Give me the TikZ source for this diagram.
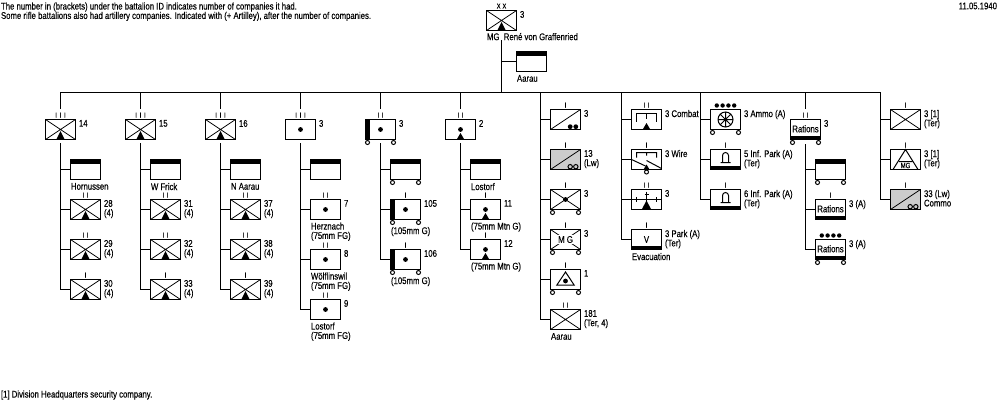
\documentclass[tikz,border=0pt]{standalone}
\usepackage{fontspec}
\setmainfont[FakeStretch=0.8,FakeBold=0.25]{Liberation Sans}
\usepackage{tikz}
\usetikzlibrary{calc,shapes.geometric}
\definecolor{lwgrey}{RGB}{204,204,204}

% echelon marks above a unit box
\newcommand{\tone}{I}
\newcommand{\ttwo}{I\kern2.8pt I}
\newcommand{\tthree}{I\kern2.8pt I\kern2.8pt I}

% text beside and under a unit box
\newcommand{\sidetxt}[2]{\node[sidetxt] (#1n) at ([xshift=3pt]#1.north east) {#2};}
\newcommand{\subtxt}[3][2.5pt]{\node[sidetxt] (#2u) at ([yshift=-#1]#2.south west) {#3};}

% symbols inside a box, relative to its centre
\newcommand{\cross}[1]{\draw[line width=.8pt] (#1.south west) -- (#1.north east) (#1.north west) -- (#1.south east);}
\newcommand{\diag}[1]{\draw[line width=.8pt] (#1.south west) -- (#1.north east);}
\newcommand{\mtn}[1]{\fill[shift={(#1.center)}] (-4,9.5) -- (0,1.5) -- (4,9.5) -- cycle;}
\newcommand{\lowmtn}[1]{\fill[shift={(#1.center)}] (-3.5,9.5) -- (0,3.5) -- (3.5,9.5) -- cycle;}
\newcommand{\gun}[1]{\fill (#1.center) circle (2.4);}
\newcommand{\hqband}[1]{\fill[shift={(#1.center)}] (-15,-10) rectangle (15,-6);}
\newcommand{\lowband}[1]{\fill[shift={(#1.center)}] (-15,6.5) rectangle (15,10);}
\newcommand{\leftband}[1]{\fill[shift={(#1.center)}] (-15,-10) rectangle (-11,10);}
\newcommand{\wheels}[1]{\draw[wheel,shift={(#1.center)}] (-13,13) circle (2) (13,13) circle (2);}
\newcommand{\fourdots}[1]{\fill[shift={(#1.center)}] (-8.7,-14) circle (2.2) (-2.9,-14) circle (2.2)
  (2.9,-14) circle (2.2) (8.7,-14) circle (2.2);}
\newcommand{\arch}[1]{\draw[shift={(#1.center)}] (-3,3) -- (-3,-4) arc (180:360:3) -- (3,3) (-5,3) -- (5,3);}

\begin{document}
\begin{tikzpicture}[
    x=1pt, y=-1pt, line width=1pt,
    txt/.style     = {inner sep=0, font=\fontsize{9.7}{9.4}\selectfont},
    sidetxt/.style = {txt, anchor=north west, align=left},
    unit/.style    = {rectangle, draw, fill=white, minimum width=30pt, minimum height=20pt,
                      inner sep=0, outer sep=0, font=\fontsize{9.7}{9.4}\selectfont},
    greyunit/.style= {unit, fill=lwgrey},
    ech/.style     = {inner sep=1.5pt, font=\fontsize{7}{7}\selectfont},
    wheel/.style   = {draw, fill=white},
    conn/.style    = {draw, line cap=rect}
  ]
    \useasboundingbox (-0.5,-0.5) rectangle (999.5,399.5);

    % notes
    \node[sidetxt] (note) at (0,1.5) {The number in (brackets) under the battalion ID indicates number of companies it had.\\
      Some rifle battalions also had artillery companies. Indicated with (+ Artilley), after the number of companies.};
    \node[sidetxt, anchor=north east] (date) at (997,1.5) {11.05.1940};
    \node[sidetxt] (foot) at (0,389.5) {[1] Division Headquarters security company.};

    % division
    \node[unit, label={[ech,name=dive]above:X\kern2pt X}] (div) at (501,20) {};
    \cross{div} \mtn{div} \sidetxt{div}{3}
    \subtxt[2pt]{div}{MG\ \ René von Graffenried}
    \node[unit] (dhq) at (531,61) {};
    \hqband{dhq} \subtxt[3pt]{dhq}{Aarau}

    % trunk
    \coordinate (trdiv) at (501,92);
    \coordinate (trA) at (60,92);   \coordinate (trB) at (140,92);  \coordinate (trC) at (220,92);
    \coordinate (trD) at (300,92);  \coordinate (trE) at (380,92);  \coordinate (trF) at (460,92);
    \coordinate (trG) at (540,92);  \coordinate (trH) at (621,92);  \coordinate (trI) at (700,92);
    \coordinate (trJ) at (805,92);  \coordinate (trK) at (880,92);
    \draw[conn] (trA) -- (trK);
    \draw[conn] (divu.south -| div) -- (trdiv);
    \draw[conn] (divu.south -| div) |- (dhq.west);

    % rifle regiments
    \node[unit, label={[ech,name=ra1e]above:\tthree}] (ra) at (60,129) {};
    \cross{ra} \mtn{ra} \sidetxt{ra}{14}
    \node[unit] (ah) at (85,169) {};
    \hqband{ah} \subtxt[3pt]{ah}{Hornussen}
    \node[unit, label={[ech,name=a1e]above:\ttwo}] (a1) at (85,209) {};
    \cross{a1} \mtn{a1} \sidetxt{a1}{28\\(4)}
    \node[unit, label={[ech,name=a2e]above:\ttwo}] (a2) at (85,249) {};
    \cross{a2} \mtn{a2} \sidetxt{a2}{29\\(4)}
    \node[unit, label={[ech,name=a3e]above:\tone}] (a3) at (85,289) {};
    \cross{a3} \mtn{a3} \sidetxt{a3}{30\\(4)}
    \draw[conn] (trA) -- ([yshift=2pt]ra1e.north);
    \draw[conn] ([yshift=-4pt]ra.south) |- (ah.west);
    \draw[conn] ([yshift=-4pt]ra.south) |- (a1.west);
    \draw[conn] ([yshift=-4pt]ra.south) |- (a2.west);
    \draw[conn] ([yshift=-4pt]ra.south) |- (a3.west);

    \node[unit, label={[ech,name=rb1e]above:\tthree}] (rb) at (140,129) {};
    \cross{rb} \mtn{rb} \sidetxt{rb}{15}
    \node[unit] (bh) at (165,169) {};
    \hqband{bh} \subtxt[3pt]{bh}{W Frick}
    \node[unit, label={[ech,name=b1e]above:\ttwo}] (b1) at (165,209) {};
    \cross{b1} \mtn{b1} \sidetxt{b1}{31\\(4)}
    \node[unit, label={[ech,name=b2e]above:\ttwo}] (b2) at (165,249) {};
    \cross{b2} \mtn{b2} \sidetxt{b2}{32\\(4)}
    \node[unit, label={[ech,name=b3e]above:\tone}] (b3) at (165,289) {};
    \cross{b3} \mtn{b3} \sidetxt{b3}{33\\(4)}
    \draw[conn] (trB) -- ([yshift=2pt]rb1e.north);
    \draw[conn] ([yshift=-4pt]rb.south) |- (bh.west);
    \draw[conn] ([yshift=-4pt]rb.south) |- (b1.west);
    \draw[conn] ([yshift=-4pt]rb.south) |- (b2.west);
    \draw[conn] ([yshift=-4pt]rb.south) |- (b3.west);

    \node[unit, label={[ech,name=rc1e]above:\tthree}] (rc) at (220,129) {};
    \cross{rc} \mtn{rc} \sidetxt{rc}{16}
    \node[unit] (ch) at (245,169) {};
    \hqband{ch} \subtxt[3pt]{ch}{N Aarau}
    \node[unit, label={[ech,name=c1e]above:\ttwo}] (c1) at (245,209) {};
    \cross{c1} \mtn{c1} \sidetxt{c1}{37\\(4)}
    \node[unit, label={[ech,name=c2e]above:\ttwo}] (c2) at (245,249) {};
    \cross{c2} \mtn{c2} \sidetxt{c2}{38\\(4)}
    \node[unit, label={[ech,name=c3e]above:\tone}] (c3) at (245,289) {};
    \cross{c3} \mtn{c3} \sidetxt{c3}{39\\(4)}
    \draw[conn] (trC) -- ([yshift=2pt]rc1e.north);
    \draw[conn] ([yshift=-4pt]rc.south) |- (ch.west);
    \draw[conn] ([yshift=-4pt]rc.south) |- (c1.west);
    \draw[conn] ([yshift=-4pt]rc.south) |- (c2.west);
    \draw[conn] ([yshift=-4pt]rc.south) |- (c3.west);

    % field artillery
    \node[unit, label={[ech,name=rde]above:\tthree}] (rd) at (300,129) {};
    \gun{rd} \sidetxt{rd}{3}
    \node[unit] (dh) at (325,169) {};
    \hqband{dh}
    \node[unit, label={[ech,name=d1e]above:\ttwo}] (d1) at (325,209) {};
    \gun{d1} \sidetxt{d1}{7} \subtxt{d1}{Herznach\\(75mm FG)}
    \node[unit, label={[ech,name=d2e]above:\ttwo}] (d2) at (325,259) {};
    \gun{d2} \sidetxt{d2}{8} \subtxt{d2}{Wölflinswil\\(75mm FG)}
    \node[unit, label={[ech,name=d3e]above:\ttwo}] (d3) at (325,309) {};
    \gun{d3} \sidetxt{d3}{9} \subtxt{d3}{Lostorf\\(75mm FG)}
    \draw[conn] (trD) -- ([yshift=2pt]rde.north);
    \draw[conn] ([yshift=-4pt]rd.south) |- (dh.west);
    \draw[conn] ([yshift=-4pt]rd.south) |- (d1.west);
    \draw[conn] ([yshift=-4pt]rd.south) |- (d2.west);
    \draw[conn] ([yshift=-4pt]rd.south) |- (d3.west);

    % heavy artillery
    \node[unit, label={[ech,name=ree]above:\ttwo}] (re) at (380,129) {};
    \leftband{re} \gun{re} \wheels{re} \sidetxt{re}{3}
    \node[unit] (eh) at (405,169) {};
    \hqband{eh} \wheels{eh}
    \node[unit, label={[ech,name=e1e]above:\tone}] (e1) at (405,209) {};
    \leftband{e1} \gun{e1} \wheels{e1} \sidetxt{e1}{105} \subtxt[7pt]{e1}{(105mm G)}
    \node[unit, label={[ech,name=e2e]above:\tone}] (e2) at (405,259) {};
    \leftband{e2} \gun{e2} \wheels{e2} \sidetxt{e2}{106} \subtxt[7pt]{e2}{(105mm G)}
    \draw[conn] (trE) -- ([yshift=2pt]ree.north);
    \draw[conn] ([yshift=-4pt]re.south) |- (eh.west);
    \draw[conn] ([yshift=-4pt]re.south) |- (e1.west);
    \draw[conn] ([yshift=-4pt]re.south) |- (e2.west);

    % mountain artillery
    \node[unit, label={[ech,name=rfe]above:\ttwo}] (rf) at (460,129) {};
    \gun{rf} \lowmtn{rf} \sidetxt{rf}{2}
    \node[unit] (fh) at (485,169) {};
    \hqband{fh} \subtxt[3pt]{fh}{Lostorf}
    \node[unit, label={[ech,name=f1e]above:\tone}] (f1) at (485,209) {};
    \gun{f1} \lowmtn{f1} \sidetxt{f1}{11} \subtxt{f1}{(75mm Mtn G)}
    \node[unit, label={[ech,name=f2e]above:\tone}] (f2) at (485,249) {};
    \gun{f2} \lowmtn{f2} \sidetxt{f2}{12} \subtxt{f2}{(75mm Mtn G)}
    \draw[conn] (trF) -- ([yshift=2pt]rfe.north);
    \draw[conn] ([yshift=-4pt]rf.south) |- (fh.west);
    \draw[conn] ([yshift=-4pt]rf.south) |- (f1.west);
    \draw[conn] ([yshift=-4pt]rf.south) |- (f2.west);

    % divisional troops
    \node[unit, label={[ech,name=g1e]above:\tone}] (g1) at (565,119) {};
    \diag{g1} \fill[shift={(g1.center)}] (4.7,7.2) circle (2.4) (10.3,7.2) circle (2.4);
    \sidetxt{g1}{3}
    \node[greyunit, label={[ech,name=g2e]above:\tone}] (g2) at (565,159) {};
    \diag{g2} \draw[shift={(g2.center)}] (4.7,7.2) circle (2.2) (10.3,7.2) circle (2.2);
    \sidetxt{g2}{13\\(Lw)}
    \node[unit, label={[ech,name=g3e]above:\tone}] (g3) at (565,199) {};
    \cross{g3} \gun{g3} \wheels{g3} \sidetxt{g3}{3}
    \node[unit, label={[ech,name=g4e]above:\tone}] (g4) at (565,239) {};
    \cross{g4} \wheels{g4} \sidetxt{g4}{3}
    \node[txt, fill=white, inner sep=1pt] (g4t) at (g4) {M G};
    \node[unit, label={[ech,name=g5e]above:\tone}] (g5) at (565,279) {};
    \draw[shift={(g5.center)}] (0,-7.5) -- (8.7,5.6) -- (-8.7,5.6) -- cycle;
    \fill[shift={(g5.center)}] (0,1.5) circle (2.4);
    \wheels{g5} \sidetxt{g5}{1}
    \node[unit, label={[ech,name=g6e]above:\ttwo}] (g6) at (565,319) {};
    \cross{g6} \sidetxt{g6}{181\\(Ter, 4)} \subtxt[3pt]{g6}{Aarau}
    \draw[conn] (trG) |- (g1.west);
    \draw[conn] (trG) |- (g2.west);
    \draw[conn] (trG) |- (g3.west);
    \draw[conn] (trG) |- (g4.west);
    \draw[conn] (trG) |- (g5.west);
    \draw[conn] (trG) |- (g6.west);

    % engineers
    \node[unit, label={[ech,name=h1e]above:\ttwo}] (h1) at (646,119) {};
    \draw[shift={(h1.center)}] (-10,2) -- (-10,-6) -- (10,-6) -- (10,2) (0,-6) -- (0,-1);
    \lowmtn{h1} \sidetxt{h1}{3 Combat}
    \node[unit, label={[ech,name=h2e]above:\tone}] (h2) at (646,159) {};
    \draw[shift={(h2.center)}] (-10,-2) -- (-10,-7) -- (10,-7) -- (10,-2) (0,-7) -- (0,-4)
      (-15,0) -- (-1,6.5) (0,1) -- (15,9);
    \fill[shift={(h2.center)}] (-3,10) -- (0,5) -- (3,10) -- cycle;
    \draw[wheel,shift={(h2.center)}] (0,12.5) circle (2);
    \sidetxt{h2}{3 Wire}
    \node[unit, label={[ech,name=h3e]above:\ttwo}] (h3) at (646,199) {};
    \draw[shift={(h3.center)}] (-15,0) -- (15,0) (-10,-2.5) -- (-10,2.5) (10,-2.5) -- (10,2.5)
      (0,-8) -- (0,4) (-2,-5) -- (2,-5);
    \fill[shift={(h3.center)}] (-4.5,9.5) -- (0,1) -- (4.5,9.5) -- cycle;
    \sidetxt{h3}{3}
    \node[unit, label={[ech,name=h4e]above:\tone}] (h4) at (646,239) {V};
    \lowband{h4} \sidetxt{h4}{3 Park (A)\\(Ter)} \subtxt[3pt]{h4}{Evacuation}
    \draw[conn] (trH) |- (h1.west);
    \draw[conn] (trH) |- (h2.west);
    \draw[conn] (trH) |- (h3.west);
    \draw[conn] (trH) |- (h4.west);

    % ammunition and parks
    \node[unit] (i1) at (725,119) {};
    \draw[shift={(i1.center)}] (0,0) circle (7.5)
      (-7.5,0) -- (7.5,0) (0,-7.5) -- (0,7.5) (-5.3,-5.3) -- (5.3,5.3) (-5.3,5.3) -- (5.3,-5.3);
    \fill (i1.center) circle (1.5);
    \wheels{i1} \fourdots{i1} \sidetxt{i1}{3 Ammo (A)}
    \node[unit, label={[ech,name=i2e]above:\tone}] (i2) at (725,159) {};
    \arch{i2} \lowband{i2} \sidetxt{i2}{5 Inf. Park (A)\\(Ter)}
    \node[unit, label={[ech,name=i3e]above:\tone}] (i3) at (725,199) {};
    \arch{i3} \lowband{i3} \sidetxt{i3}{6 Inf. Park (A)\\(Ter)}
    \draw[conn] (trI) |- (i1.west);
    \draw[conn] (trI) |- (i2.west);
    \draw[conn] (trI) |- (i3.west);

    % rations
    \node[unit, label={[ech,name=rje]above:\ttwo}] (rj) at (805,129) {\raisebox{1.5pt}{Rations}};
    \lowband{rj} \wheels{rj} \sidetxt{rj}{3}
    \node[unit] (jh) at (830,169) {};
    \hqband{jh} \wheels{jh}
    \node[unit, label={[ech,name=j1e]above:\tone}] (j1) at (830,209) {\raisebox{1.5pt}{Rations}};
    \lowband{j1} \sidetxt{j1}{3 (A)}
    \node[unit] (j2) at (830,249) {\raisebox{1.5pt}{Rations}};
    \lowband{j2} \wheels{j2} \fourdots{j2} \sidetxt{j2}{3 (A)}
    \draw[conn] (trJ) -- ([yshift=2pt]rje.north);
    \draw[conn] ([yshift=-5pt]rj.south) |- (jh.west);
    \draw[conn] ([yshift=-5pt]rj.south) |- (j1.west);
    \draw[conn] ([yshift=-5pt]rj.south) |- (j2.west);

    % territorial and air defence
    \node[unit, label={[ech,name=k1e]above:\tone}] (k1) at (905,119) {};
    \cross{k1} \sidetxt{k1}{3 [1]\\(Ter)}
    \node[unit, label={[ech,name=k2e]above:\tone}] (k2) at (905,159) {};
    \draw[shift={(k2.center)}] (-12.5,10) -- (0,-10) -- (12.5,10) (-6.5,2) -- (6.5,2);
    \node[inner sep=0, font=\fontsize{7.5}{7.5}\selectfont] (k2t) at ([yshift=-6pt]k2.center) {MG};
    \sidetxt{k2}{3 [1]\\(Ter)}
    \node[greyunit, label={[ech,name=k3e]above:\tone}] (k3) at (905,199) {};
    \diag{k3} \draw[shift={(k3.center)}] (4.7,7.2) circle (2.2) (10.3,7.2) circle (2.2);
    \sidetxt{k3}{33 (Lw)\\Commo}
    \draw[conn] (trK) |- (k1.west);
    \draw[conn] (trK) |- (k2.west);
    \draw[conn] (trK) |- (k3.west);
\end{tikzpicture}
\end{document}
